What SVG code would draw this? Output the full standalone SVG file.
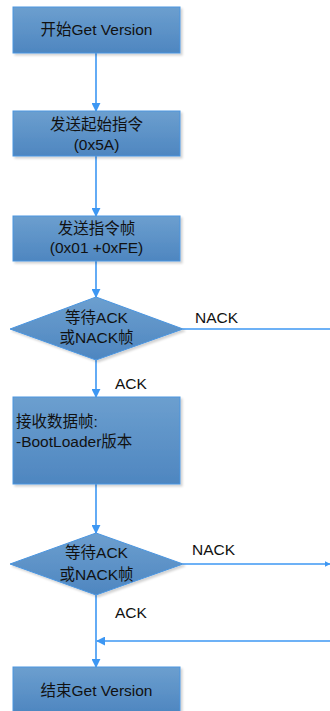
<svg xmlns="http://www.w3.org/2000/svg" width="330" height="711" viewBox="0 0 330 711">
<defs>
<linearGradient id="g" x1="0" y1="0" x2="0" y2="1">
<stop offset="0" stop-color="#6c9fcf"/>
<stop offset="1" stop-color="#4e86c0"/>
</linearGradient>
<filter id="sh" x="-10%" y="-10%" width="130%" height="130%">
<feDropShadow dx="2" dy="2" stdDeviation="1" flood-color="#000" flood-opacity="0.18"/>
</filter>
<marker id="ar" viewBox="0 0 10 10" refX="9" refY="5" markerWidth="9" markerHeight="9" markerUnits="userSpaceOnUse" orient="auto">
<path d="M0,0 L10,5 L0,10 z" fill="#3d97f3"/>
</marker>
<marker id="ar2" viewBox="0 0 10 10" refX="9" refY="5" markerWidth="6" markerHeight="8" markerUnits="userSpaceOnUse" orient="auto">
<path d="M0,0 L10,5 L0,10 z" fill="#3d97f3"/>
</marker>
</defs>
<style>
.n{fill:url(#g);stroke:#4a95e0;stroke-width:1;filter:url(#sh)}
.t{font-family:"Liberation Sans","Noto Sans CJK SC",sans-serif;font-size:15.5px;fill:#111}
.c{stroke:#3d97f3;stroke-width:1.6;fill:none}
.l{font-family:"Liberation Sans","Noto Sans CJK SC",sans-serif;font-size:15.5px;fill:#111}
</style>
<g id="connectors">
<line class="c" x1="96" y1="53" x2="96" y2="111" marker-end="url(#ar)"/>
<line class="c" x1="96" y1="156" x2="96" y2="216" marker-end="url(#ar)"/>
<line class="c" x1="96" y1="261" x2="96" y2="297" marker-end="url(#ar)"/>
<line class="c" x1="183" y1="329" x2="330" y2="329"/>
<text class="l" x="195" y="323">NACK</text>
<line class="c" x1="96" y1="360" x2="96" y2="397" marker-end="url(#ar)"/>
<text class="l" x="115" y="389">ACK</text>
<line class="c" x1="96" y1="484" x2="96" y2="533" marker-end="url(#ar)"/>
<line class="c" x1="183" y1="564" x2="330" y2="564" marker-end="url(#ar2)"/>
<text class="l" x="192" y="555">NACK</text>
<line class="c" x1="96" y1="595" x2="96" y2="667" marker-end="url(#ar)"/>
<text class="l" x="115" y="618">ACK</text>
<line class="c" x1="330" y1="641" x2="97" y2="641" marker-end="url(#ar)"/>
</g>
<g id="start">
<rect class="n" x="13" y="7" width="167" height="46"/>
<text class="t" x="96.5" y="35" text-anchor="middle">开始Get Version</text>
</g>
<g id="send-start">
<rect class="n" x="13" y="111" width="167" height="45"/>
<text class="t" x="96.5" y="130" text-anchor="middle">发送起始指令</text>
<text class="t" x="96.5" y="150" text-anchor="middle">(0x5A)</text>
</g>
<g id="send-frame">
<rect class="n" x="13" y="216" width="167" height="45"/>
<text class="t" x="96.5" y="234" text-anchor="middle">发送指令帧</text>
<text class="t" x="96.5" y="253" text-anchor="middle">(0x01 +0xFE)</text>
</g>
<g id="wait1">
<polygon class="n" points="96,297 183,329 96,360 10,329"/>
<text class="t" x="96.5" y="323" text-anchor="middle">等待ACK</text>
<text class="t" x="96.5" y="343" text-anchor="middle">或NACK帧</text>
</g>
<g id="receive">
<rect class="n" x="13" y="397" width="167" height="87"/>
<text class="t" x="16" y="427">接收数据帧:</text>
<text class="t" x="16" y="447">-BootLoader版本</text>
</g>
<g id="wait2">
<polygon class="n" points="96,533 183,564 96,595 10,564"/>
<text class="t" x="96.5" y="558" text-anchor="middle">等待ACK</text>
<text class="t" x="96.5" y="580" text-anchor="middle">或NACK帧</text>
</g>
<g id="end">
<rect class="n" x="13" y="667" width="167" height="46"/>
<text class="t" x="96.5" y="696" text-anchor="middle">结束Get Version</text>
</g>
</svg>
